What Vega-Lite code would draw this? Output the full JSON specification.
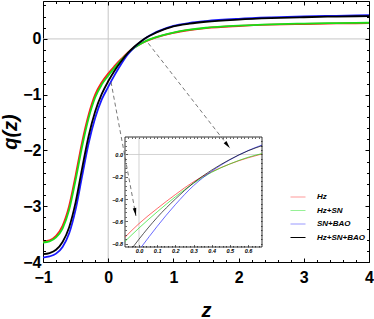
{
  "$schema": "https://vega.github.io/schema/vega-lite/v6.json",
  "width": 326,
  "height": 261,
  "autosize": {"type": "none"},
  "padding": {"left": 43, "top": 1, "right": 5, "bottom": 57},
  "datasets": {
    "main": [
      {"series":"Hz","z":-1,"q":-3.63},{"series":"Hz","z":-0.9,"q":-3.61},{"series":"Hz","z":-0.8,"q":-3.53},{"series":"Hz","z":-0.7,"q":-3.35},{"series":"Hz","z":-0.6,"q":-3.0},{"series":"Hz","z":-0.5,"q":-2.45},{"series":"Hz","z":-0.4,"q":-1.85},{"series":"Hz","z":-0.3,"q":-1.36},{"series":"Hz","z":-0.2,"q":-1.0},{"series":"Hz","z":-0.1,"q":-0.78},{"series":"Hz","z":0,"q":-0.62},{"series":"Hz","z":0.1,"q":-0.485},{"series":"Hz","z":0.2,"q":-0.36},{"series":"Hz","z":0.3,"q":-0.245},{"series":"Hz","z":0.4,"q":-0.155},{"series":"Hz","z":0.5,"q":-0.085},{"series":"Hz","z":0.6,"q":-0.03},{"series":"Hz","z":0.7,"q":0.015},{"series":"Hz","z":0.8,"q":0.05},{"series":"Hz","z":0.9,"q":0.082},{"series":"Hz","z":1.0,"q":0.11},{"series":"Hz","z":1.25,"q":0.16},{"series":"Hz","z":1.5,"q":0.195},{"series":"Hz","z":2,"q":0.232},{"series":"Hz","z":2.5,"q":0.255},{"series":"Hz","z":3,"q":0.268},{"series":"Hz","z":3.5,"q":0.277},{"series":"Hz","z":4,"q":0.283},
      {"series":"Hz+SN","z":-1,"q":-3.65},{"series":"Hz+SN","z":-0.9,"q":-3.63},{"series":"Hz+SN","z":-0.8,"q":-3.56},{"series":"Hz+SN","z":-0.7,"q":-3.4},{"series":"Hz+SN","z":-0.6,"q":-3.07},{"series":"Hz+SN","z":-0.5,"q":-2.53},{"series":"Hz+SN","z":-0.4,"q":-1.93},{"series":"Hz+SN","z":-0.3,"q":-1.42},{"series":"Hz+SN","z":-0.2,"q":-1.05},{"series":"Hz+SN","z":-0.1,"q":-0.82},{"series":"Hz+SN","z":0,"q":-0.66},{"series":"Hz+SN","z":0.1,"q":-0.515},{"series":"Hz+SN","z":0.2,"q":-0.38},{"series":"Hz+SN","z":0.3,"q":-0.258},{"series":"Hz+SN","z":0.4,"q":-0.16},{"series":"Hz+SN","z":0.5,"q":-0.085},{"series":"Hz+SN","z":0.6,"q":-0.025},{"series":"Hz+SN","z":0.7,"q":0.018},{"series":"Hz+SN","z":0.8,"q":0.054},{"series":"Hz+SN","z":0.9,"q":0.087},{"series":"Hz+SN","z":1.0,"q":0.115},{"series":"Hz+SN","z":1.25,"q":0.165},{"series":"Hz+SN","z":1.5,"q":0.2},{"series":"Hz+SN","z":2,"q":0.238},{"series":"Hz+SN","z":2.5,"q":0.262},{"series":"Hz+SN","z":3,"q":0.276},{"series":"Hz+SN","z":3.5,"q":0.285},{"series":"Hz+SN","z":4,"q":0.29},
      {"series":"SN+BAO","z":-1,"q":-3.92},{"series":"SN+BAO","z":-0.9,"q":-3.9},{"series":"SN+BAO","z":-0.8,"q":-3.85},{"series":"SN+BAO","z":-0.7,"q":-3.73},{"series":"SN+BAO","z":-0.6,"q":-3.49},{"series":"SN+BAO","z":-0.5,"q":-3.06},{"series":"SN+BAO","z":-0.4,"q":-2.46},{"series":"SN+BAO","z":-0.3,"q":-1.87},{"series":"SN+BAO","z":-0.2,"q":-1.42},{"series":"SN+BAO","z":-0.1,"q":-1.09},{"series":"SN+BAO","z":0,"q":-0.86},{"series":"SN+BAO","z":0.1,"q":-0.645},{"series":"SN+BAO","z":0.2,"q":-0.45},{"series":"SN+BAO","z":0.3,"q":-0.28},{"series":"SN+BAO","z":0.4,"q":-0.15},{"series":"SN+BAO","z":0.5,"q":-0.048},{"series":"SN+BAO","z":0.6,"q":0.035},{"series":"SN+BAO","z":0.7,"q":0.1},{"series":"SN+BAO","z":0.8,"q":0.152},{"series":"SN+BAO","z":0.9,"q":0.197},{"series":"SN+BAO","z":1.0,"q":0.234},{"series":"SN+BAO","z":1.25,"q":0.287},{"series":"SN+BAO","z":1.5,"q":0.32},{"series":"SN+BAO","z":2,"q":0.36},{"series":"SN+BAO","z":2.5,"q":0.385},{"series":"SN+BAO","z":3,"q":0.403},{"series":"SN+BAO","z":3.5,"q":0.415},{"series":"SN+BAO","z":4,"q":0.425},
      {"series":"Hz+SN+BAO","z":-1,"q":-3.86},{"series":"Hz+SN+BAO","z":-0.9,"q":-3.84},{"series":"Hz+SN+BAO","z":-0.8,"q":-3.78},{"series":"Hz+SN+BAO","z":-0.7,"q":-3.64},{"series":"Hz+SN+BAO","z":-0.6,"q":-3.38},{"series":"Hz+SN+BAO","z":-0.5,"q":-2.93},{"series":"Hz+SN+BAO","z":-0.4,"q":-2.32},{"series":"Hz+SN+BAO","z":-0.3,"q":-1.74},{"series":"Hz+SN+BAO","z":-0.2,"q":-1.3},{"series":"Hz+SN+BAO","z":-0.1,"q":-0.99},{"series":"Hz+SN+BAO","z":0,"q":-0.76},{"series":"Hz+SN+BAO","z":0.1,"q":-0.565},{"series":"Hz+SN+BAO","z":0.2,"q":-0.4},{"series":"Hz+SN+BAO","z":0.3,"q":-0.255},{"series":"Hz+SN+BAO","z":0.4,"q":-0.14},{"series":"Hz+SN+BAO","z":0.5,"q":-0.045},{"series":"Hz+SN+BAO","z":0.6,"q":0.033},{"series":"Hz+SN+BAO","z":0.7,"q":0.093},{"series":"Hz+SN+BAO","z":0.8,"q":0.143},{"series":"Hz+SN+BAO","z":0.9,"q":0.188},{"series":"Hz+SN+BAO","z":1.0,"q":0.225},{"series":"Hz+SN+BAO","z":1.25,"q":0.275},{"series":"Hz+SN+BAO","z":1.5,"q":0.308},{"series":"Hz+SN+BAO","z":2,"q":0.347},{"series":"Hz+SN+BAO","z":2.5,"q":0.372},{"series":"Hz+SN+BAO","z":3,"q":0.389},{"series":"Hz+SN+BAO","z":3.5,"q":0.401},{"series":"Hz+SN+BAO","z":4,"q":0.41}
    ],
    "inset": [
      {"series":"Hz","z":-0.077,"q":-0.742},{"series":"Hz","z":0,"q":-0.62},{"series":"Hz","z":0.1,"q":-0.485},{"series":"Hz","z":0.2,"q":-0.36},{"series":"Hz","z":0.3,"q":-0.245},{"series":"Hz","z":0.4,"q":-0.155},{"series":"Hz","z":0.5,"q":-0.085},{"series":"Hz","z":0.6,"q":-0.03},{"series":"Hz","z":0.677,"q":0.005},
      {"series":"Hz+SN","z":-0.077,"q":-0.78},{"series":"Hz+SN","z":0,"q":-0.66},{"series":"Hz+SN","z":0.1,"q":-0.515},{"series":"Hz+SN","z":0.2,"q":-0.38},{"series":"Hz+SN","z":0.3,"q":-0.258},{"series":"Hz+SN","z":0.4,"q":-0.16},{"series":"Hz+SN","z":0.5,"q":-0.085},{"series":"Hz+SN","z":0.6,"q":-0.025},{"series":"Hz+SN","z":0.677,"q":0.008},
      {"series":"SN+BAO","z":0.013,"q":-0.83},{"series":"SN+BAO","z":0.1,"q":-0.645},{"series":"SN+BAO","z":0.2,"q":-0.45},{"series":"SN+BAO","z":0.3,"q":-0.28},{"series":"SN+BAO","z":0.4,"q":-0.15},{"series":"SN+BAO","z":0.5,"q":-0.048},{"series":"SN+BAO","z":0.6,"q":0.035},{"series":"SN+BAO","z":0.677,"q":0.085},
      {"series":"Hz+SN+BAO","z":-0.033,"q":-0.83},{"series":"Hz+SN+BAO","z":0,"q":-0.76},{"series":"Hz+SN+BAO","z":0.1,"q":-0.565},{"series":"Hz+SN+BAO","z":0.2,"q":-0.4},{"series":"Hz+SN+BAO","z":0.3,"q":-0.255},{"series":"Hz+SN+BAO","z":0.4,"q":-0.14},{"series":"Hz+SN+BAO","z":0.5,"q":-0.045},{"series":"Hz+SN+BAO","z":0.6,"q":0.033},{"series":"Hz+SN+BAO","z":0.677,"q":0.079}
    ],
    "arrows": [
      {"id":1,"z":0.043,"q":-0.772,"z2":0.426,"q2":-3.175},
      {"id":2,"z":0.615,"q":-0.078,"z2":1.868,"q2":-1.961}
    ]
  },
  "layer": [
    {
      "layer": [
        {"data": {"values": [{"z": 0}]}, "mark": {"type": "rule", "color": "#c6c6c6", "strokeWidth": 1}, "encoding": {"x": {"field": "z", "type": "quantitative"}}},
        {"data": {"values": [{"q": 0}]}, "mark": {"type": "rule", "color": "#c6c6c6", "strokeWidth": 1}, "encoding": {"y": {"field": "q", "type": "quantitative"}}},
        {
          "data": {"name": "main"},
          "mark": {"type": "line", "interpolate": "monotone", "strokeWidth": 1.8},
          "encoding": {
            "x": {"field": "z", "type": "quantitative", "scale": {"domain": [-1, 4], "nice": false, "zero": false},
              "axis": {"orient": "bottom", "values": [-1, 0, 1, 2, 3, 4], "format": "d", "tickSize": -4, "tickColor": "#000", "labelPadding": 11, "labelFlush": false, "labelOverlap": false, "title": "z", "titleFontSize": 20, "titleFontStyle": "italic", "titleFontWeight": "bold", "titlePadding": 15, "zindex": 1}},
            "y": {"field": "q", "type": "quantitative", "scale": {"domain": [-4, 0.68], "nice": false, "zero": false},
              "axis": {"orient": "left", "values": [-4, -3, -2, -1, 0], "format": "d", "tickSize": -4, "tickColor": "#000", "labelPadding": 6, "labelOverlap": false, "title": "q(z)", "titleFontSize": 20, "titleFontStyle": "italic", "titleFontWeight": "bold", "titlePadding": 2, "zindex": 1}},
            "color": {"field": "series", "type": "nominal",
              "scale": {"domain": ["Hz", "Hz+SN", "SN+BAO", "Hz+SN+BAO"], "range": ["#ff1a1a", "#17e017", "#1a1aff", "#000000"]},
              "legend": {"orient": "none", "legendX": 247, "legendY": 188, "title": null, "symbolType": "stroke", "symbolSize": 225, "symbolStrokeWidth": 1, "labelFont": "Liberation Sans", "labelFontSize": 8, "labelFontStyle": "italic", "labelFontWeight": "bold", "labelColor": "#000", "labelOffset": 11, "rowPadding": 1.5, "padding": 0,
                "encode": {"symbols": {"update": {"strokeOpacity": {"signal": "datum.value === 'Hz+SN+BAO' ? 1 : 0.45"}}}}}
            }
          }
        }
      ]
    },
    {
      "data": {"values": [{"z": 0, "q": 0}]},
      "mark": {"type": "point", "opacity": 0},
      "encoding": {
        "x": {"field": "z", "type": "quantitative", "scale": {"domain": [-1, 4], "nice": false, "zero": false},
          "axis": {"orient": "bottom", "values": [-0.8,-0.6,-0.4,-0.2,0.2,0.4,0.6,0.8,1.2,1.4,1.6,1.8,2.2,2.4,2.6,2.8,3.2,3.4,3.6,3.8], "tickSize": -2.5, "tickColor": "#000", "labels": false, "title": null, "zindex": 1}},
        "y": {"field": "q", "type": "quantitative", "scale": {"domain": [-4, 0.68], "nice": false, "zero": false},
          "axis": {"orient": "left", "values": [-3.8,-3.6,-3.4,-3.2,-2.8,-2.6,-2.4,-2.2,-1.8,-1.6,-1.4,-1.2,-0.8,-0.6,-0.4,-0.2,0.2,0.4,0.6], "tickSize": -2.5, "tickColor": "#000", "labels": false, "title": null, "zindex": 1}}
      }
    },
    {
      "data": {"values": [{"z": 0, "q": 0}]},
      "mark": {"type": "point", "opacity": 0},
      "encoding": {
        "x": {"field": "z", "type": "quantitative", "scale": {"domain": [-1, 4], "nice": false, "zero": false},
          "axis": {"orient": "top", "values": [-1, 0, 1, 2, 3, 4], "tickSize": -4, "tickColor": "#000", "labels": false, "title": null, "zindex": 1}},
        "y": {"field": "q", "type": "quantitative", "scale": {"domain": [-4, 0.68], "nice": false, "zero": false},
          "axis": {"orient": "right", "values": [-4, -3, -2, -1, 0], "tickSize": -4, "tickColor": "#000", "labels": false, "title": null, "zindex": 1}}
      }
    },
    {
      "data": {"values": [{"z": 0, "q": 0}]},
      "mark": {"type": "point", "opacity": 0},
      "encoding": {
        "x": {"field": "z", "type": "quantitative", "scale": {"domain": [-1, 4], "nice": false, "zero": false},
          "axis": {"orient": "top", "values": [-0.8,-0.6,-0.4,-0.2,0.2,0.4,0.6,0.8,1.2,1.4,1.6,1.8,2.2,2.4,2.6,2.8,3.2,3.4,3.6,3.8], "tickSize": -2.5, "tickColor": "#000", "labels": false, "title": null, "zindex": 1}},
        "y": {"field": "q", "type": "quantitative", "scale": {"domain": [-4, 0.68], "nice": false, "zero": false},
          "axis": {"orient": "right", "values": [-3.8,-3.6,-3.4,-3.2,-2.8,-2.6,-2.4,-2.2,-1.8,-1.6,-1.4,-1.2,-0.8,-0.6,-0.4,-0.2,0.2,0.4,0.6], "tickSize": -2.5, "tickColor": "#000", "labels": false, "title": null, "zindex": 1}}
      }
    },
    {
      "layer": [
        {
          "data": {"values": [{"x1": -0.077, "x2": 0.677, "y1": -0.83, "y2": 0.157}]},
          "mark": {"type": "rect", "fill": "white", "stroke": "#000", "strokeWidth": 0.8},
          "encoding": {
            "x": {"field": "x1", "type": "quantitative", "scale": {"domain": [-0.077, 0.677], "range": [82, 219], "nice": false, "zero": false},
              "axis": {"orient": "bottom", "offset": -15, "values": [0, 0.1, 0.2, 0.3, 0.4, 0.5, 0.6], "format": ".1f",
                "tickSize": -2.5, "tickWidth": 0.6, "tickColor": "#000", "labelFontSize": 5.5, "labelFontStyle": "italic", "labelPadding": 4, "labelOverlap": false, "labelFlush": false, "title": null, "zindex": 2}},
            "x2": {"field": "x2"},
            "y": {"field": "y1", "type": "quantitative", "scale": {"domain": [-0.83, 0.157], "range": [246, 136], "nice": false, "zero": false},
              "axis": {"orient": "left", "offset": -82, "values": [-0.8, -0.6, -0.4, -0.2, 0], "format": ".1f",
                "tickSize": -2.5, "tickWidth": 0.6, "tickColor": "#000", "labelFontSize": 5.5, "labelFontStyle": "italic", "labelPadding": 5, "labelOverlap": false, "labelBound": false, "title": null, "zindex": 2}},
            "y2": {"field": "y2"}
          }
        },
        {
          "data": {"values": [{"x1": 0, "y1": -0.83, "y2": 0.157}]},
          "mark": {"type": "rule", "color": "#c8c8c8", "strokeWidth": 0.8},
          "encoding": {"x": {"field": "x1", "type": "quantitative"}, "y": {"field": "y1", "type": "quantitative"}, "y2": {"field": "y2"}}
        },
        {
          "data": {"values": [{"x1": -0.077, "x2": 0.677, "y1": 0}]},
          "mark": {"type": "rule", "color": "#c8c8c8", "strokeWidth": 0.8},
          "encoding": {"x": {"field": "x1", "type": "quantitative"}, "x2": {"field": "x2"}, "y": {"field": "y1", "type": "quantitative"}}
        },
        {
          "data": {"name": "inset"},
          "mark": {"type": "line", "interpolate": "monotone", "strokeWidth": 1, "opacity": 0.65},
          "encoding": {
            "x": {"field": "z", "type": "quantitative"},
            "y": {"field": "q", "type": "quantitative"},
            "color": {"field": "series", "type": "nominal"}
          }
        }
      ]
    },
    {
      "data": {"values": [{"z": 0, "q": 0}]},
      "mark": {"type": "point", "opacity": 0},
      "encoding": {
        "x": {"field": "z", "type": "quantitative", "scale": {"domain": [-0.077, 0.677], "range": [82, 219], "nice": false, "zero": false},
          "axis": {"orient": "bottom", "offset": -15, "values": [-0.06,-0.04,-0.02,0.02,0.04,0.06,0.08,0.12,0.14,0.16,0.18,0.22,0.24,0.26,0.28,0.32,0.34,0.36,0.38,0.42,0.44,0.46,0.48,0.52,0.54,0.56,0.58,0.62,0.64,0.66], "tickSize": -1.5, "tickWidth": 0.6, "tickColor": "#000", "labels": false, "title": null, "zindex": 2}},
        "y": {"field": "q", "type": "quantitative", "scale": {"domain": [-0.83, 0.157], "range": [246, 136], "nice": false, "zero": false},
          "axis": {"orient": "left", "offset": -82, "values": [-0.76,-0.72,-0.68,-0.64,-0.56,-0.52,-0.48,-0.44,-0.36,-0.32,-0.28,-0.24,-0.16,-0.12,-0.08,-0.04,0.04,0.08,0.12], "tickSize": -1.5, "tickWidth": 0.6, "tickColor": "#000", "labels": false, "title": null, "zindex": 2}}
      }
    },
    {
      "data": {"values": [{"z": 0, "q": 0}]},
      "mark": {"type": "point", "opacity": 0},
      "encoding": {
        "x": {"field": "z", "type": "quantitative", "scale": {"domain": [-0.077, 0.677], "range": [82, 219], "nice": false, "zero": false},
          "axis": {"orient": "top", "offset": -136, "values": [-0.06,-0.04,-0.02,0,0.02,0.04,0.06,0.08,0.1,0.12,0.14,0.16,0.18,0.2,0.22,0.24,0.26,0.28,0.3,0.32,0.34,0.36,0.38,0.4,0.42,0.44,0.46,0.48,0.5,0.52,0.54,0.56,0.58,0.6,0.62,0.64,0.66], "tickSize": -1.5, "tickWidth": 0.6, "tickColor": "#000", "labels": false, "title": null, "zindex": 2}},
        "y": {"field": "q", "type": "quantitative", "scale": {"domain": [-0.83, 0.157], "range": [246, 136], "nice": false, "zero": false},
          "axis": {"orient": "right", "offset": -107, "values": [-0.8,-0.76,-0.72,-0.68,-0.64,-0.6,-0.56,-0.52,-0.48,-0.44,-0.4,-0.36,-0.32,-0.28,-0.24,-0.2,-0.16,-0.12,-0.08,-0.04,0,0.04,0.08,0.12], "tickSize": -1.5, "tickWidth": 0.6, "tickColor": "#000", "labels": false, "title": null, "zindex": 2}}
      }
    },
    {
      "data": {"name": "arrows"},
      "layer": [
        {
          "mark": {"type": "rule", "strokeDash": [4, 3], "color": "#555555", "strokeWidth": 0.8},
          "encoding": {
            "x": {"field": "z", "type": "quantitative", "scale": {"domain": [-1, 4], "nice": false, "zero": false}, "axis": null},
            "y": {"field": "q", "type": "quantitative", "scale": {"domain": [-4, 0.68], "nice": false, "zero": false}, "axis": null},
            "x2": {"field": "z2"},
            "y2": {"field": "q2"}
          }
        },
        {
          "transform": [{"filter": "datum.id == 1"}],
          "mark": {"type": "point", "shape": "M0,0L0.4,1.8L-0.4,1.8Z", "filled": true, "color": "#000", "opacity": 1, "size": 78, "angle": 169.4},
          "encoding": {"x": {"field": "z2", "type": "quantitative"}, "y": {"field": "q2", "type": "quantitative"}}
        },
        {
          "transform": [{"filter": "datum.id == 2"}],
          "mark": {"type": "point", "shape": "M0,0L0.4,1.8L-0.4,1.8Z", "filled": true, "color": "#000", "opacity": 1, "size": 78, "angle": 141.7},
          "encoding": {"x": {"field": "z2", "type": "quantitative"}, "y": {"field": "q2", "type": "quantitative"}}
        }
      ]
    }
  ],
  "resolve": {"scale": {"x": "independent", "y": "independent"}, "axis": {"x": "independent", "y": "independent"}},
  "config": {
    "view": {"stroke": "#000", "strokeWidth": 1},
    "axis": {"labelFont": "Liberation Sans", "labelFontWeight": "bold", "labelFontSize": 16, "labelColor": "#000", "titleFont": "Liberation Sans", "titleColor": "#000", "grid": false, "domain": false}
  }
}
